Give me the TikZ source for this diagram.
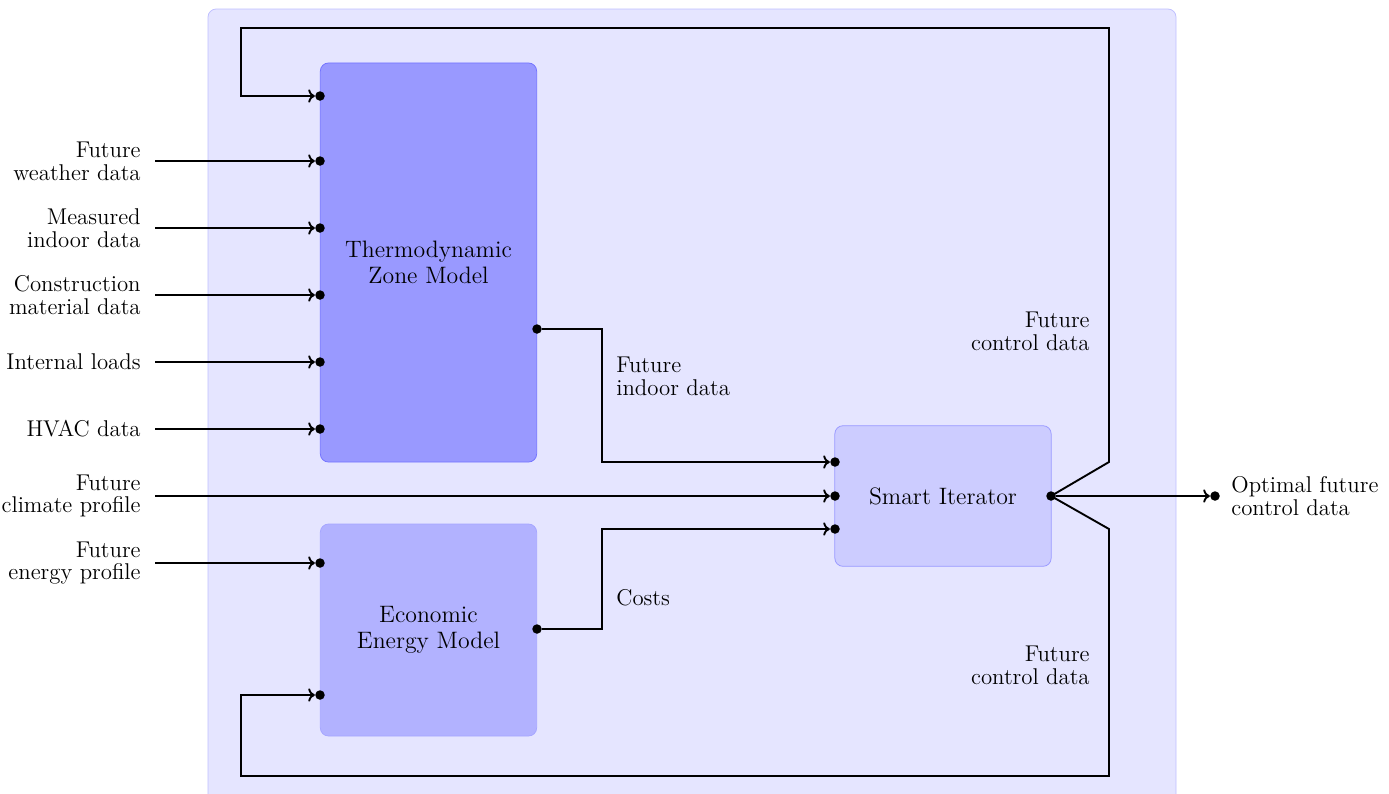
\documentclass[tikz,border=0pt]{standalone}
\usepackage{amsmath,amssymb}
\usepackage{tikz}
\usetikzlibrary{arrows.meta}

\begin{document}
\begin{tikzpicture}[x=0.0185cm,y=-0.0185cm]
	\tikzset{
		every node/.style={inner sep=0pt},
		block/.style={rounded corners=0.15cm, align=center, minimum width=4cm, font={\fontsize{12.5}{14}\selectfont}},
		dot/.style={circle, fill=black, minimum size=5pt},
		flow/.style={line width=1pt, -{To[length=3.5pt,width=7pt]}},
		lbl/.style={align=left, anchor=west, font={\fontsize{12}{12}\selectfont}},
		rlbl/.style={align=right, anchor=east, font={\fontsize{12}{12}\selectfont}}
	}
	\useasboundingbox (0,0) rectangle (1389,793);
	% outer panel
	\draw [blue!25, fill=blue!10, rounded corners=0.15cm] (208,9) rectangle (1176,830);
	% blocks
	\node [block, fill=blue!40, draw=blue!55, minimum height=7.38cm] (thermo) at (428.5,262.5) {Thermodynamic\\Zone Model};
	\node [block, fill=blue!30, draw=blue!35, minimum height=3.92cm] (econ) at (428.5,630) {Economic\\Energy Model};
	\node [block, fill=blue!20, draw=blue!40, minimum height=2.6cm] (smart) at (943,496) {Smart Iterator};
	% ports
	\node [dot] (tin0) at (320,96) {};
	\node [dot] (tout) at (537,329) {};
	\node [dot] (ein1) at (320,563) {};
	\node [dot] (ein2) at (320,695) {};
	\node [dot] (eout) at (537,629) {};
	\node [dot] (sin1) at (835,462) {};
	\node [dot] (sin2) at (835,496) {};
	\node [dot] (sin3) at (835,529) {};
	\node [dot] (sout) at (1051,496) {};
	\node [dot] (res) at (1215,496) {};
	% inputs of the zone model
	\foreach \y/\txt [count=\i] in {161/{Future\\weather data}, 228/{Measured\\indoor data}, 295/{Construction\\material data}, 362/{Internal loads}, 429/{HVAC data}} {
		\node [dot] (tin\i) at (320,\y) {};
		\node [rlbl] (src\i) at (141,\y) {\txt};
		\draw [flow] (155,\y) -- (tin\i);
	}
	% other inputs
	\node [rlbl] (climate) at (141,496) {Future\\climate profile};
	\draw [flow] (155,496) -- (sin2);
	\node [rlbl] (energy) at (141,563) {Future\\energy profile};
	\draw [flow] (155,563) -- (ein1);
	% model outputs
	\draw [flow] (tout) -- (602,329) |- (sin1);
	\node [lbl, anchor=north west] (indoor) at (616,357) {Future\\indoor data};
	\draw [flow] (eout) -- (602,629) |- (sin3);
	\node [lbl] (costs) at (616,598) {Costs};
	% result
	\draw [flow] (sout) -- (res);
	\node [lbl] (optimal) at (1231,496) {Optimal future\\control data};
	% feedback loops
	\draw [flow] (sout.center) -- (1109,462) -- (1109,28) -- (241,28) |- (tin0);
	\node [rlbl] (ctrltop) at (1090,331) {Future\\control data};
	\draw [flow] (sout.center) -- (1109,529) -- (1109,776) -- (241,776) |- (ein2);
	\node [rlbl] (ctrlbot) at (1090,665) {Future\\control data};
\end{tikzpicture}
\end{document}
